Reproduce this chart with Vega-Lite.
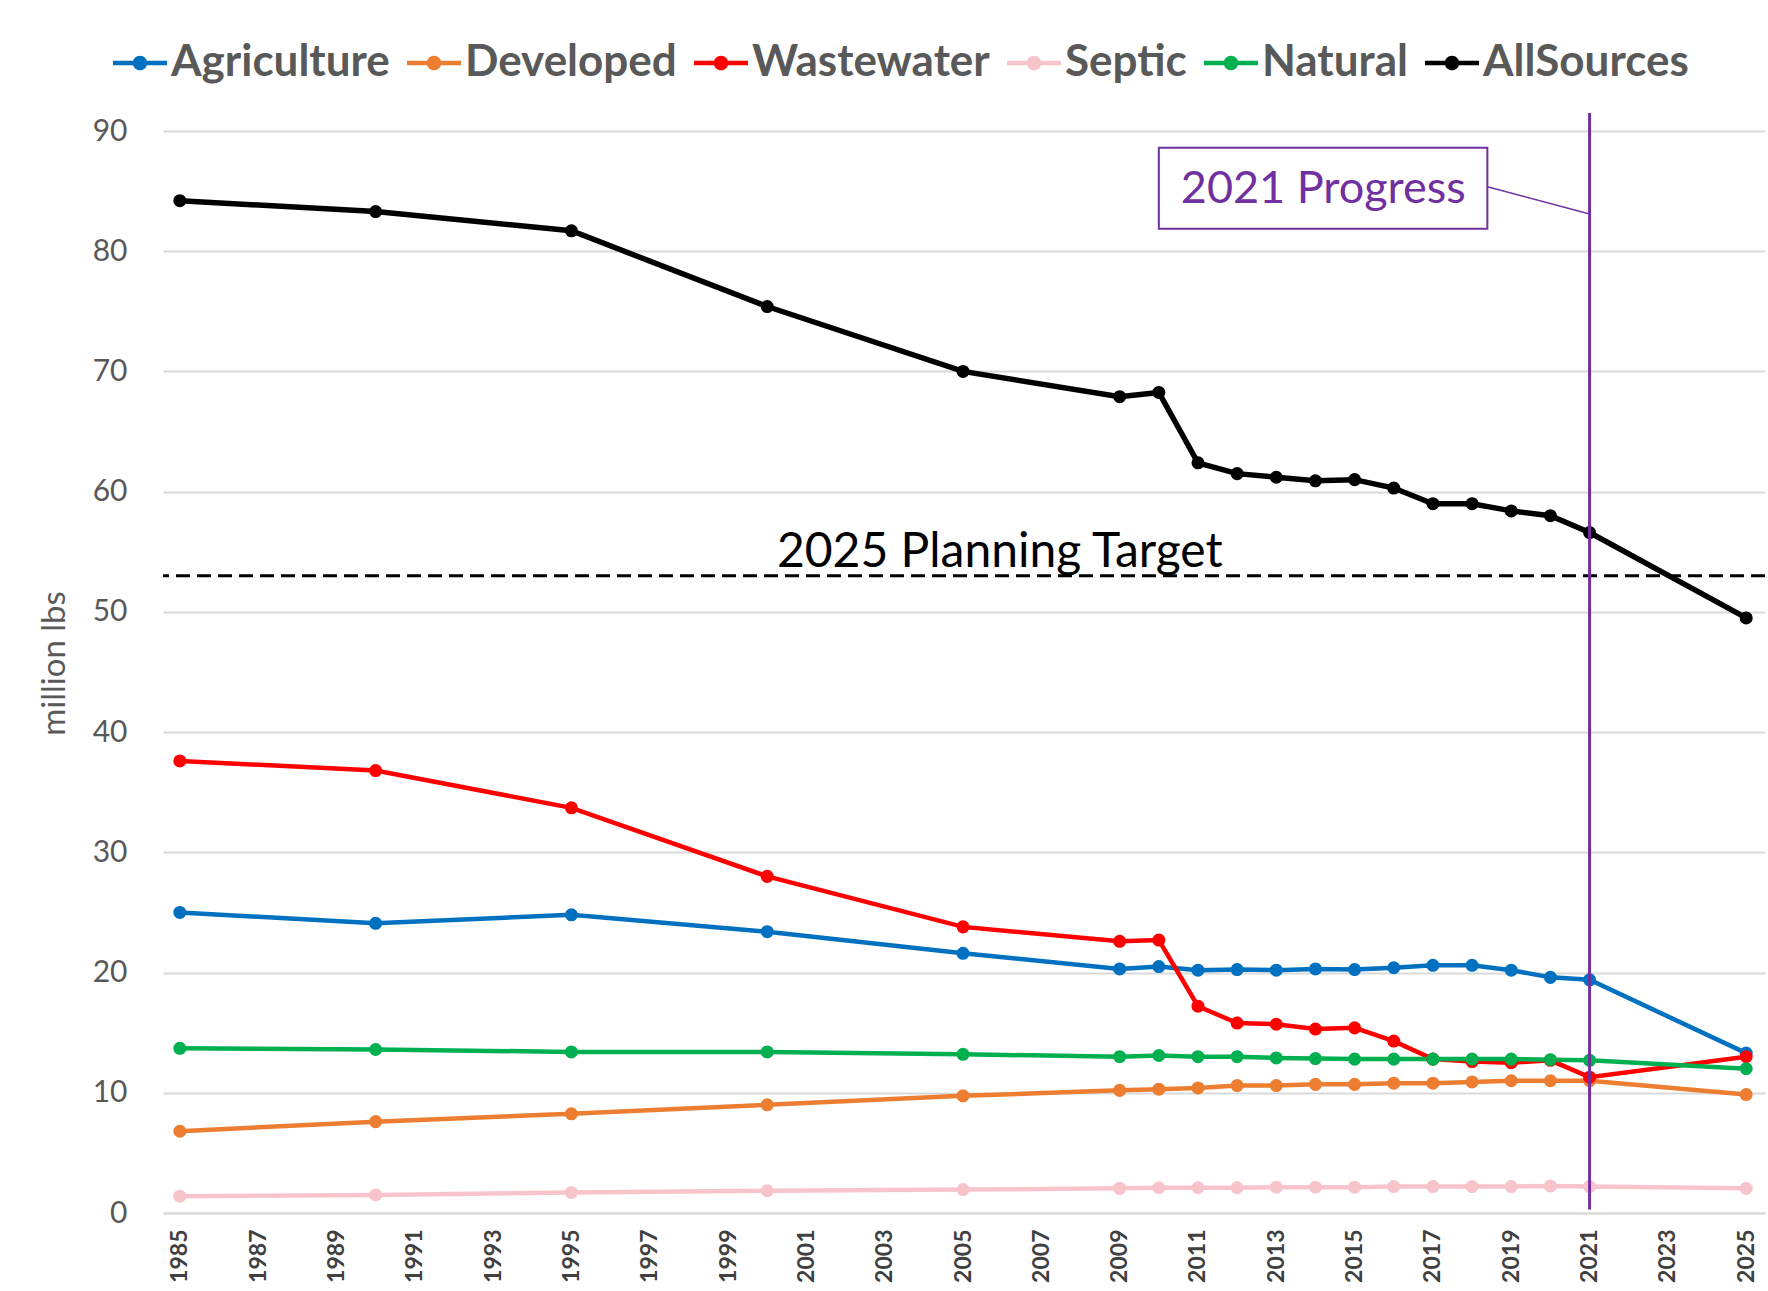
{
  "$schema": "https://vega.github.io/schema/vega-lite/v6.json",
  "width": 1602,
  "height": 1082,
  "autosize": {"type": "none"},
  "padding": {"left": 163, "top": 131, "right": 3, "bottom": 78},
  "background": "white",
  "config": {
    "view": {"stroke": null},
    "font": "Lato"
  },
  "datasets": {
    "loads": [
      {"source": "Agriculture", "year": 1985, "value": 25.0},
      {"source": "Agriculture", "year": 1990, "value": 24.1},
      {"source": "Agriculture", "year": 1995, "value": 24.8},
      {"source": "Agriculture", "year": 2000, "value": 23.4},
      {"source": "Agriculture", "year": 2005, "value": 21.6},
      {"source": "Agriculture", "year": 2009, "value": 20.3},
      {"source": "Agriculture", "year": 2010, "value": 20.5},
      {"source": "Agriculture", "year": 2011, "value": 20.2},
      {"source": "Agriculture", "year": 2012, "value": 20.25},
      {"source": "Agriculture", "year": 2013, "value": 20.2},
      {"source": "Agriculture", "year": 2014, "value": 20.3},
      {"source": "Agriculture", "year": 2015, "value": 20.25},
      {"source": "Agriculture", "year": 2016, "value": 20.4},
      {"source": "Agriculture", "year": 2017, "value": 20.6},
      {"source": "Agriculture", "year": 2018, "value": 20.6},
      {"source": "Agriculture", "year": 2019, "value": 20.2},
      {"source": "Agriculture", "year": 2020, "value": 19.6},
      {"source": "Agriculture", "year": 2021, "value": 19.4},
      {"source": "Agriculture", "year": 2025, "value": 13.3},
      {"source": "Developed", "year": 1985, "value": 6.8},
      {"source": "Developed", "year": 1990, "value": 7.6},
      {"source": "Developed", "year": 1995, "value": 8.25},
      {"source": "Developed", "year": 2000, "value": 9.0},
      {"source": "Developed", "year": 2005, "value": 9.75},
      {"source": "Developed", "year": 2009, "value": 10.2},
      {"source": "Developed", "year": 2010, "value": 10.3},
      {"source": "Developed", "year": 2011, "value": 10.4},
      {"source": "Developed", "year": 2012, "value": 10.6},
      {"source": "Developed", "year": 2013, "value": 10.6},
      {"source": "Developed", "year": 2014, "value": 10.7},
      {"source": "Developed", "year": 2015, "value": 10.7},
      {"source": "Developed", "year": 2016, "value": 10.8},
      {"source": "Developed", "year": 2017, "value": 10.8},
      {"source": "Developed", "year": 2018, "value": 10.9},
      {"source": "Developed", "year": 2019, "value": 11.0},
      {"source": "Developed", "year": 2020, "value": 11.0},
      {"source": "Developed", "year": 2021, "value": 11.0},
      {"source": "Developed", "year": 2025, "value": 9.85},
      {"source": "Wastewater", "year": 1985, "value": 37.6},
      {"source": "Wastewater", "year": 1990, "value": 36.8},
      {"source": "Wastewater", "year": 1995, "value": 33.7},
      {"source": "Wastewater", "year": 2000, "value": 28.0},
      {"source": "Wastewater", "year": 2005, "value": 23.8},
      {"source": "Wastewater", "year": 2009, "value": 22.6},
      {"source": "Wastewater", "year": 2010, "value": 22.7},
      {"source": "Wastewater", "year": 2011, "value": 17.2},
      {"source": "Wastewater", "year": 2012, "value": 15.8},
      {"source": "Wastewater", "year": 2013, "value": 15.7},
      {"source": "Wastewater", "year": 2014, "value": 15.3},
      {"source": "Wastewater", "year": 2015, "value": 15.4},
      {"source": "Wastewater", "year": 2016, "value": 14.3},
      {"source": "Wastewater", "year": 2017, "value": 12.8},
      {"source": "Wastewater", "year": 2018, "value": 12.6},
      {"source": "Wastewater", "year": 2019, "value": 12.5},
      {"source": "Wastewater", "year": 2020, "value": 12.7},
      {"source": "Wastewater", "year": 2021, "value": 11.3},
      {"source": "Wastewater", "year": 2025, "value": 13.0},
      {"source": "Septic", "year": 1985, "value": 1.4},
      {"source": "Septic", "year": 1990, "value": 1.5},
      {"source": "Septic", "year": 1995, "value": 1.7},
      {"source": "Septic", "year": 2000, "value": 1.85},
      {"source": "Septic", "year": 2005, "value": 1.95},
      {"source": "Septic", "year": 2009, "value": 2.05},
      {"source": "Septic", "year": 2010, "value": 2.1},
      {"source": "Septic", "year": 2011, "value": 2.1},
      {"source": "Septic", "year": 2012, "value": 2.1},
      {"source": "Septic", "year": 2013, "value": 2.15},
      {"source": "Septic", "year": 2014, "value": 2.15},
      {"source": "Septic", "year": 2015, "value": 2.15},
      {"source": "Septic", "year": 2016, "value": 2.2},
      {"source": "Septic", "year": 2017, "value": 2.2},
      {"source": "Septic", "year": 2018, "value": 2.2},
      {"source": "Septic", "year": 2019, "value": 2.2},
      {"source": "Septic", "year": 2020, "value": 2.25},
      {"source": "Septic", "year": 2021, "value": 2.2},
      {"source": "Septic", "year": 2025, "value": 2.05},
      {"source": "Natural", "year": 1985, "value": 13.7},
      {"source": "Natural", "year": 1990, "value": 13.6},
      {"source": "Natural", "year": 1995, "value": 13.4},
      {"source": "Natural", "year": 2000, "value": 13.4},
      {"source": "Natural", "year": 2005, "value": 13.2},
      {"source": "Natural", "year": 2009, "value": 13.0},
      {"source": "Natural", "year": 2010, "value": 13.1},
      {"source": "Natural", "year": 2011, "value": 13.0},
      {"source": "Natural", "year": 2012, "value": 13.0},
      {"source": "Natural", "year": 2013, "value": 12.9},
      {"source": "Natural", "year": 2014, "value": 12.85},
      {"source": "Natural", "year": 2015, "value": 12.8},
      {"source": "Natural", "year": 2016, "value": 12.8},
      {"source": "Natural", "year": 2017, "value": 12.8},
      {"source": "Natural", "year": 2018, "value": 12.8},
      {"source": "Natural", "year": 2019, "value": 12.8},
      {"source": "Natural", "year": 2020, "value": 12.75},
      {"source": "Natural", "year": 2021, "value": 12.7},
      {"source": "Natural", "year": 2025, "value": 12.0},
      {"source": "AllSources", "year": 1985, "value": 84.2},
      {"source": "AllSources", "year": 1990, "value": 83.3},
      {"source": "AllSources", "year": 1995, "value": 81.7},
      {"source": "AllSources", "year": 2000, "value": 75.4},
      {"source": "AllSources", "year": 2005, "value": 70.0},
      {"source": "AllSources", "year": 2009, "value": 67.9},
      {"source": "AllSources", "year": 2010, "value": 68.25},
      {"source": "AllSources", "year": 2011, "value": 62.4},
      {"source": "AllSources", "year": 2012, "value": 61.5},
      {"source": "AllSources", "year": 2013, "value": 61.2},
      {"source": "AllSources", "year": 2014, "value": 60.9},
      {"source": "AllSources", "year": 2015, "value": 61.0},
      {"source": "AllSources", "year": 2016, "value": 60.3},
      {"source": "AllSources", "year": 2017, "value": 59.0},
      {"source": "AllSources", "year": 2018, "value": 59.0},
      {"source": "AllSources", "year": 2019, "value": 58.4},
      {"source": "AllSources", "year": 2020, "value": 58.0},
      {"source": "AllSources", "year": 2021, "value": 56.6},
      {"source": "AllSources", "year": 2025, "value": 49.5}
    ],
    "target": [{"value": 53.0, "label": "2025 Planning Target", "labelYear": 2005.94, "labelValue": 53.7}],
    "progress": [{"year": 2021, "top": 91.5, "bottom": 0.3}],
    "box": [{"x1": 2010.0, "x2": 2018.39, "y1": 88.6, "y2": 81.86, "cx": 2014.2, "cy": 85.2, "label": "2021 Progress"}],
    "leader": [{"x1": 2018.39, "y1": 85.36, "x2": 2021, "y2": 83.1}]
  },
  "layer": [
    {
      "data": {"name": "target"},
      "mark": {"type": "rule", "color": "black", "strokeWidth": 3, "strokeDash": [14, 7]},
      "encoding": {"y": {"field": "value", "type": "quantitative"}}
    },
    {
      "data": {"name": "target"},
      "mark": {"type": "text", "font": "Lato", "fontSize": 48, "color": "black", "align": "center", "baseline": "alphabetic"},
      "encoding": {
        "x": {"field": "labelYear", "type": "quantitative"},
        "y": {"field": "labelValue", "type": "quantitative"},
        "text": {"field": "label"}
      }
    },
    {
      "data": {"name": "loads"},
      "mark": {"type": "line"},
      "encoding": {
        "x": {
          "field": "year", "type": "quantitative",
          "scale": {"domain": [1984.57, 2025.48], "nice": false, "zero": false},
          "axis": {
            "title": null,
            "values": [1985,1987,1989,1991,1993,1995,1997,1999,2001,2003,2005,2007,2009,2011,2013,2015,2017,2019,2021,2023,2025],
            "format": "d",
            "labelAngle": -90,
            "labelFont": "Lato", "labelFontSize": 23, "labelFontWeight": "bold", "labelColor": "#404040",
            "labelPadding": 16, "labelOverlap": false, "labelFlush": false,
            "ticks": false, "grid": false,
            "domain": true, "domainColor": "#D9D9D9", "domainWidth": 2
          }
        },
        "y": {
          "field": "value", "type": "quantitative",
          "scale": {"domain": [0, 90], "nice": false},
          "axis": {
            "title": "million lbs",
            "titleFont": "Lato", "titleFontSize": 33, "titleFontWeight": "normal", "titleColor": "#595959",
            "titleX": -109, "titleY": 532, "titleAngle": -90, "titleAlign": "center", "titleBaseline": "middle",
            "values": [0,10,20,30,40,50,60,70,80,90],
            "labelFont": "Lato", "labelFontSize": 30, "labelColor": "#595959", "labelPadding": 36,
            "ticks": false, "domain": false,
            "grid": true, "gridColor": "#D9D9D9", "gridWidth": 2
          }
        },
        "color": {"field": "source", "type": "nominal",
          "scale": {"domain": ["Agriculture","Developed","Wastewater","Septic","Natural","AllSources"],
                    "range": ["#0070C0","#ED7D31","#FF0000","#F8C4CB","#00B050","#000000"]},
          "legend": {
            "title": null,
            "orient": "none", "legendX": -50, "legendY": -95, "direction": "horizontal",
            "symbolType": "M-1,-0.08L1,-0.08L1,0.08L-1,0.08Z M0.27,0A0.27,0.27 0 1 1 -0.27,0A0.27,0.27 0 1 1 0.27,0Z",
            "symbolSize": 2916, "symbolStrokeWidth": 0, "symbolOpacity": 1,
            "labelFont": "Lato", "labelFontSize": 44, "labelFontWeight": "bold", "labelColor": "#595959",
            "labelOffset": 4, "columnPadding": 17, "labelLimit": 400,
            "encode": {"symbols": {"update": {"fill": {"scale": "color", "field": "value"}, "stroke": {"value": "transparent"}, "strokeWidth": {"value": 0}}}}
          }
        },
        "strokeWidth": {"condition": {"test": "datum.source === 'AllSources'", "value": 5.5}, "value": 4.5}
      }
    },
    {
      "data": {"name": "loads"},
      "mark": {"type": "circle", "size": 170, "opacity": 1},
      "encoding": {
        "x": {"field": "year", "type": "quantitative"},
        "y": {"field": "value", "type": "quantitative"},
        "color": {"field": "source", "type": "nominal"}
      }
    },
    {
      "data": {"name": "box"},
      "mark": {"type": "rect", "fill": "white", "stroke": "#7030A0", "strokeWidth": 2},
      "encoding": {
        "x": {"field": "x1", "type": "quantitative"},
        "x2": {"field": "x2"},
        "y": {"field": "y1", "type": "quantitative"},
        "y2": {"field": "y2"}
      }
    },
    {
      "data": {"name": "box"},
      "mark": {"type": "text", "font": "Lato", "fontSize": 45, "color": "#7030A0", "align": "center", "baseline": "middle"},
      "encoding": {
        "x": {"field": "cx", "type": "quantitative"},
        "y": {"field": "cy", "type": "quantitative"},
        "text": {"field": "label"}
      }
    },
    {
      "data": {"name": "leader"},
      "mark": {"type": "rule", "color": "#7030A0", "strokeWidth": 1.5},
      "encoding": {
        "x": {"field": "x1", "type": "quantitative"},
        "x2": {"field": "x2"},
        "y": {"field": "y1", "type": "quantitative"},
        "y2": {"field": "y2"}
      }
    },
    {
      "data": {"name": "progress"},
      "mark": {"type": "rule", "color": "#7030A0", "strokeWidth": 3},
      "encoding": {
        "x": {"field": "year", "type": "quantitative"},
        "y": {"field": "top", "type": "quantitative"},
        "y2": {"field": "bottom"}
      }
    }
  ]
}
